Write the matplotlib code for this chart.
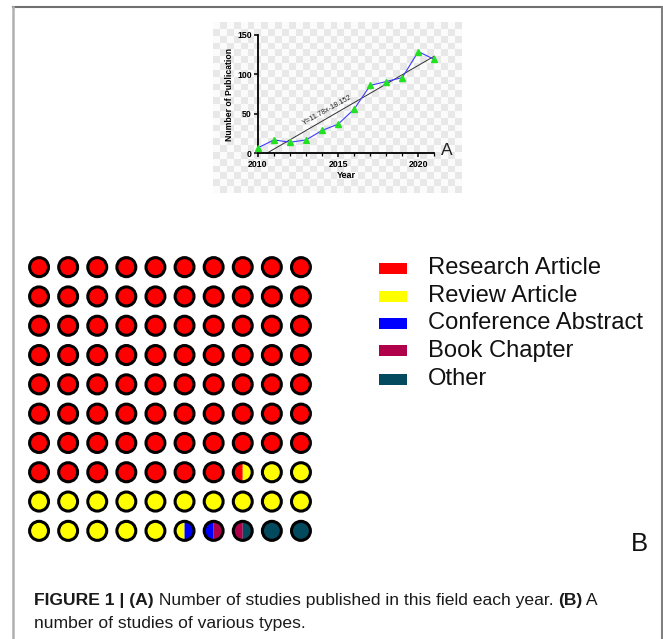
import numpy as np
import matplotlib
matplotlib.use("Agg")
import matplotlib.pyplot as plt
from matplotlib.patches import Circle, Wedge, Rectangle
from matplotlib.lines import Line2D
from matplotlib.text import Annotation

W, H = 663, 639

# panel A: publications per year
years = [2010, 2011, 2012, 2013, 2014, 2015, 2016, 2017, 2018, 2019, 2020, 2021]
pubs = [7, 17, 14, 17, 29, 37, 56, 86, 91, 96, 129, 119]
fit_slope, fit_icept = 11.78, -18.152

# panel B: study types, counted in half circles out of 100 circles
types = ["Research Article", "Review Article", "Conference Abstract", "Book Chapter", "Other"]
type_counts = [77.5, 18, 1, 1, 2.5]
type_colors = ["#ff0000", "#ffff00", "#0000ff", "#b0004a", "#034a5e"]

plt.rcParams["font.family"] = ["Liberation Sans", "DejaVu Sans"]

fig = plt.figure(figsize=(W / 100, H / 100), dpi=100)
fig.patch.set_facecolor("white")


def box(x0, y0, x1, y1):
    return [x0 / W, 1 - y1 / H, (x1 - x0) / W, (y1 - y0) / H]


def fx(x):
    return x / W


def fy(y):
    return 1 - y / H


# outer frame
fig.add_artist(Line2D([fx(12.5), fx(662)], [fy(6.5), fy(6.5)], color="#707070", lw=1.5))
fig.add_artist(Line2D([fx(12.5), fx(12.5)], [fy(6.5), fy(639)], color="#b0b0b0", lw=1.8))
fig.add_artist(Line2D([fx(662), fx(662)], [fy(6.5), fy(639)], color="#808080", lw=1.5))

# checkered backdrop behind panel A
bg = fig.add_axes(box(213, 22, 462, 193))
ii, jj = np.indices((25, 36))
checker = (ii + jj) % 2
bg.imshow(checker, cmap=matplotlib.colors.ListedColormap(["#fbfbfb", "#e8e8e8"]),
          aspect="auto", interpolation="nearest")
bg.axis("off")

ax = fig.add_axes(box(258, 35, 434.3, 153.3))
ax.patch.set_alpha(0)
ax.set_xlim(2010, 2021)
ax.set_ylim(0, 150)
for s in ["top", "right"]:
    ax.spines[s].set_visible(False)
for s in ["left", "bottom"]:
    ax.spines[s].set_linewidth(1.3)
ax.set_xticks([2010, 2015, 2020])
ax.set_xticks(years, minor=True)
ax.set_yticks([0, 50, 100, 150])
ax.tick_params(which="major", length=3, width=1.1, labelsize=6.3, pad=1.5)
ax.tick_params(which="minor", length=2, width=0.9)
for lab in ax.get_xticklabels() + ax.get_yticklabels():
    lab.set_fontweight("bold")
ax.set_xlabel("Year", fontsize=6.5, fontweight="bold", labelpad=2)
ax.set_ylabel("Number of Publication", fontsize=6.2, fontweight="bold", labelpad=2)

x0 = -fit_icept / fit_slope + 2009
fit_x = np.array([x0, 2021])
ax.plot(fit_x, fit_slope * (fit_x - 2009) + fit_icept, color="#303030", lw=0.7, clip_on=False)
ax.plot(years, pubs, color="#3c3cff", lw=0.8, marker="^", ms=4.2,
        mfc="#22e022", mec="#22e022", clip_on=False, zorder=3)
ax.text(2014.3, 54, "Y=11.78x-18.152", fontsize=5.2, rotation=29,
        ha="center", va="center", color="#202020")
fig.text(fx(441), fy(155), "A", fontsize=12.5, color="#222222")

# panel B: waffle of 10 x 10 circles, each split in two halves
halves = []
for c, n in zip(type_colors, type_counts):
    halves += [c] * int(round(n * 2))

wf = fig.add_axes(box(24.5, 252.5, 315.5, 545.5))
wf.set_xlim(-0.5, 9.5)
wf.set_ylim(9.5, -0.5)
wf.axis("off")
r = 0.325
for k in range(100):
    row, col = divmod(k, 10)
    left, right = halves[2 * k], halves[2 * k + 1]
    if left == right:
        wf.add_patch(Circle((col, row), r, facecolor=left, edgecolor="none"))
    else:
        wf.add_patch(Wedge((col, row), r, 90, 270, facecolor=left, edgecolor="none"))
        wf.add_patch(Wedge((col, row), r, 270, 90, facecolor=right, edgecolor="none"))
    wf.add_patch(Circle((col, row), r, facecolor="none", edgecolor="black", lw=2.2))

# legend
leg_y = [268, 296, 323, 351, 379]
for name, c, y in zip(types, type_colors, leg_y):
    fig.add_artist(Rectangle((fx(379), fy(y + 5.5)), (407 - 379) / W, 11 / H,
                             facecolor=c, edgecolor="none"))
    fig.text(fx(428), fy(y), name, fontsize=17.1, va="center", color="#111111")

fig.text(fx(631), fy(551), "B", fontsize=18.5, color="#111111")

# caption, bold and regular runs chained along the line
cap = dict(fontsize=12.6, va="bottom", color="#1a1a1a")
t1 = fig.text(fx(34), fy(608), "FIGURE 1 | (A)", fontweight="bold", **cap)
t2 = fig.add_artist(Annotation(" Number of studies published in this field each year. ",
                               xy=(1, 0), xycoords=t1, **cap))
t3 = fig.add_artist(Annotation("(B)", xy=(1, 0), xycoords=t2, fontweight="bold", **cap))
fig.add_artist(Annotation(" A", xy=(1, 0), xycoords=t3, **cap))
fig.text(fx(34), fy(631), "number of studies of various types.", **cap)

fig.savefig("out.png", dpi=100)
